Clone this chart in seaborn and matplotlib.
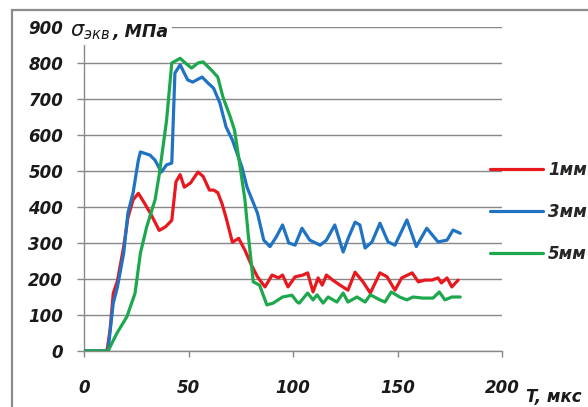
import matplotlib
matplotlib.use("Agg")
import matplotlib.pyplot as plt
import seaborn as sns
import pandas as pd
from matplotlib.patches import Rectangle

# 1 mm
x_1mm = [0, 11, 12.5, 14, 16, 19, 21, 23.5, 26, 29, 32, 36, 39, 42, 44, 46, 48, 51, 54.5, 57,
         60, 62, 64, 66, 68, 71, 74, 77, 80, 83, 86.6, 90, 93, 95, 97.6, 101, 104.8, 107, 109.6,
         112, 114, 116, 119, 122.5, 126.3, 129.7, 133.5, 137, 141.6, 145, 148.8, 152, 157, 160,
         163, 166.5, 169.4, 171, 173.7, 176, 179]
y_1mm = [0, 0, 60, 160, 195, 290, 370, 420, 438, 410, 380, 335, 345, 363, 470, 490, 455, 467, 497, 485,
         447, 447, 440, 410, 370, 302, 313, 280, 240, 206, 178, 211, 203, 211, 178, 206, 211, 217, 164,
         203, 183, 211, 197, 183, 169, 219, 192, 161, 217, 206, 169, 203, 217, 192,
         197, 197, 203, 189, 203, 178, 197]

# 3 mm
x_3mm = [0, 11.5, 12.4, 14, 16, 19, 21, 23.5, 26, 27, 31.6, 34, 37, 39.5, 42, 43.5, 46, 49.6, 52, 56.5,
         59.4, 62, 65, 68, 71, 75.6, 78, 83, 86, 89, 92, 95, 98, 101, 104.3, 108, 113, 116, 120, 124,
         126.4, 129.7, 132, 134.5, 137.8, 141.6, 145.5, 148.8, 154.5, 159, 164, 169.4, 173.7, 176.6, 180]
y_3mm = [0, 0, 50, 133, 178, 272, 383, 440, 530, 553, 544, 530, 497, 517, 522, 772, 795, 753, 747, 761,
         744, 730, 689, 622, 586, 510, 455, 383, 308, 290, 317, 350, 300, 294, 341, 308, 294, 308, 350, 275,
         313, 358, 350, 286, 303, 355, 303, 294, 364, 290, 341, 303, 308, 336, 327]

# 5 mm
x_5mm = [0, 11.5, 15.8, 20.5, 24.4, 27, 30, 34, 36, 39.5, 42, 46, 48.5, 51.5, 54.5, 57, 61, 64, 66.5,
         70, 72, 74.6, 77, 78.5, 81, 84, 87.5, 90.5, 95, 99.5, 102, 103, 107, 109.6, 111.5, 114.4, 116.8,
         121, 124, 126.3, 130.6, 134.5, 137, 141.6, 144, 147, 151, 154.5, 157.4, 162, 167, 170, 172.7, 176, 180]
y_5mm = [0, 0, 50, 95, 160, 272, 345, 420, 490, 640, 800, 813, 800, 786, 800, 803, 780, 761, 705,
         650, 614, 515, 420, 328, 192, 183, 128, 133, 150, 155, 136, 133, 161, 142, 156, 133, 150,
         136, 161, 136, 150, 136, 156, 142, 136, 164, 150, 142, 150, 147, 147, 164, 142, 150, 150]

labels = ["1мм", "3мм", "5мм"]
colors = ["#E8191E", "#1F73C2", "#1EA84E"]
x_ticks = [0, 50, 100, 150, 200]
y_ticks = [0, 100, 200, 300, 400, 500, 600, 700, 800, 900]

sns.set_theme(style="white")
plt.rcParams['font.family'] = ['DejaVu Sans']

fig = plt.figure(figsize=(5.88, 4.07), dpi=100)
ax = fig.add_axes([84 / 588, 1 - 351 / 407, 418 / 588, 324 / 407])

series = [(x_1mm, y_1mm), (x_3mm, y_3mm), (x_5mm, y_5mm)]
for (xs, ys), lab, col in zip(series, labels, colors):
    df = pd.DataFrame({"t": xs, "s": ys})
    sns.lineplot(data=df, x="t", y="s", sort=False, color=col, lw=2.3, label=lab, ax=ax, zorder=3)

ax.set_xlim(0, 200)
ax.set_ylim(0, 900)
ax.set_xticks(x_ticks)
ax.set_yticks(y_ticks)
ax.set_xlabel("")
ax.set_ylabel("")
for s in ["top", "right"]:
    ax.spines[s].set_visible(False)
for s in ["left", "bottom"]:
    ax.spines[s].set_color("#888888")
    ax.spines[s].set_linewidth(1.0)
ax.yaxis.grid(True, color="#888888", lw=1.0)
ax.xaxis.grid(False)
ax.tick_params(axis="y", length=5, width=1, color="#888888", pad=10, direction="out", left=True)
ax.tick_params(axis="x", length=4.3, width=1, color="#888888", pad=16, direction="out", bottom=True)
for t in ax.get_xticklabels() + ax.get_yticklabels():
    t.set_fontsize(12)
    t.set_fontweight("bold")
    t.set_fontstyle("italic")
    t.set_color("#1a1a1a")

leg = ax.legend(loc="center left", bbox_to_anchor=(483 / 588, 1 - 212 / 407),
                bbox_transform=fig.transFigure, frameon=False, borderaxespad=0,
                handlelength=3.2, handletextpad=0.3, labelspacing=1.45,
                prop={"size": 12, "weight": "bold", "style": "italic"})
for line in leg.get_lines():
    line.set_linewidth(2.3)

fig.text(70 / 588, 1 - 32 / 407, r"$\sigma_{экв}$", fontsize=15, fontweight="bold",
         fontstyle="italic", va="center", ha="left", color="#1a1a1a",
         bbox=dict(facecolor="white", edgecolor="none", pad=2))
fig.text(113 / 588, 1 - 32 / 407, ", МПа", fontsize=12.5, fontweight="bold",
         fontstyle="italic", va="center", ha="left", color="#1a1a1a",
         bbox=dict(facecolor="white", edgecolor="none", pad=2))
fig.text(526 / 588, 1 - 397 / 407, "T, мкс", fontsize=12, fontweight="bold",
         fontstyle="italic", va="center", ha="left", color="#1a1a1a")

fig.patches.append(Rectangle((12 / 588, -0.1), 1.2, 1.1 - 10 / 407, transform=fig.transFigure,
                             fill=False, edgecolor="#8c8c8c", lw=1.6, zorder=0))

fig.savefig("out.png", dpi=100)
